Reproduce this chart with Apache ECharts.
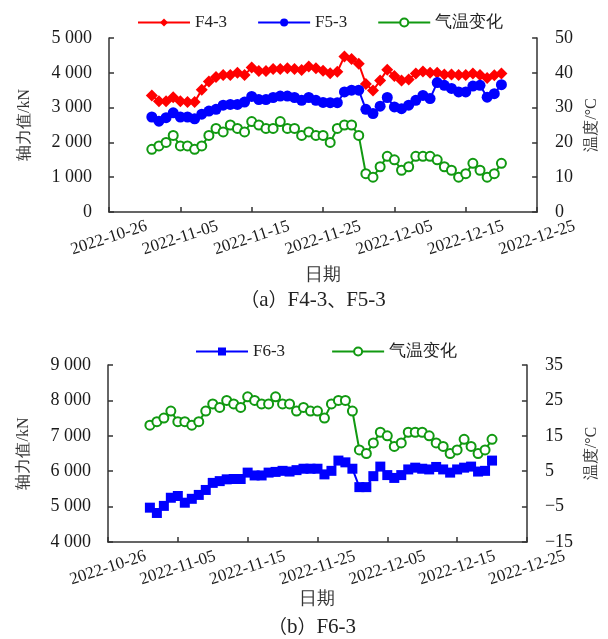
<!DOCTYPE html>
<html>
<head>
<meta charset="utf-8">
<script src="https://cdn.jsdelivr.net/npm/echarts@6/dist/echarts.min.js"></script>
<style>
  html, body { margin: 0; padding: 0; background: #fff; }
  #chart { width: 608px; height: 639px; }
</style>
</head>
<body>
<div id="chart"></div>
<script>
var startDate = "2022-10-26";
var dates = [
  "2022-11-01", "2022-11-02", "2022-11-03", "2022-11-04", "2022-11-05",
  "2022-11-06", "2022-11-07", "2022-11-08", "2022-11-09", "2022-11-10",
  "2022-11-11", "2022-11-12", "2022-11-13", "2022-11-14", "2022-11-15",
  "2022-11-16", "2022-11-17", "2022-11-18", "2022-11-19", "2022-11-20",
  "2022-11-21", "2022-11-22", "2022-11-23", "2022-11-24", "2022-11-25",
  "2022-11-26", "2022-11-27", "2022-11-28", "2022-11-29", "2022-11-30",
  "2022-12-01", "2022-12-02", "2022-12-03", "2022-12-04", "2022-12-05",
  "2022-12-06", "2022-12-07", "2022-12-08", "2022-12-09", "2022-12-10",
  "2022-12-11", "2022-12-12", "2022-12-13", "2022-12-14", "2022-12-15",
  "2022-12-16", "2022-12-17", "2022-12-18", "2022-12-19", "2022-12-20"
];
var f43 = [3350, 3180, 3180, 3300, 3180, 3160, 3160, 3510, 3750, 3880,
  3940, 3940, 4000, 3940, 4150, 4050, 4050, 4110, 4110, 4130,
  4110, 4080, 4180, 4130, 4060, 3990, 4030, 4470, 4400, 4260,
  3680, 3490, 3780, 4090, 3910, 3780, 3810, 3980, 4040, 4000,
  4000, 3950, 3950, 3940, 3940, 3980, 3940, 3850, 3930, 3980];
var f53 = [2730, 2610, 2710, 2850, 2730, 2730, 2680, 2810, 2900, 2950,
  3070, 3090, 3090, 3160, 3320, 3230, 3230, 3290, 3330, 3330,
  3290, 3210, 3290, 3210, 3150, 3140, 3140, 3450, 3500, 3500,
  2950, 2830, 3040, 3290, 3020, 2970, 3070, 3210, 3350, 3260,
  3720, 3640, 3550, 3450, 3450, 3620, 3640, 3300, 3400, 3660];
var f63 = [4970, 4820, 5020, 5250, 5300, 5110, 5220, 5330, 5470, 5670,
  5720, 5770, 5780, 5780, 5960, 5880, 5880, 5960, 5980, 6010,
  5990, 6030, 6070, 6070, 6070, 5910, 6010, 6300, 6250, 6070,
  5550, 5550, 5860, 6130, 5890, 5810, 5890, 6050, 6100, 6070,
  6050, 6120, 6050, 5960, 6050, 6100, 6130, 5990, 6010, 6300];
var temp = [18, 19, 20, 22, 19, 19, 18, 19, 22, 24,
  23, 25, 24, 23, 26, 25, 24, 24, 26, 24,
  24, 22, 23, 22, 22, 20, 24, 25, 25, 22,
  11, 10, 13, 16, 15, 12, 13, 16, 16, 16,
  15, 13, 12, 10, 11, 14, 12, 10, 11, 14];

var DAY = 86400000;
var t0 = Date.parse(startDate);
var fontFam = "Liberation Serif";
var cjkFam = "Noto Sans CJK SC";
var txtColor = "#1a1a1a";

// x 轴用距起始日的天数
function pairs(vals) {
  return vals.map(function (v, i) {
    return [(Date.parse(dates[i]) - t0) / DAY, v];
  });
}
function dateLabel(v) {
  return new Date(t0 + v * DAY).toISOString().slice(0, 10);
}
function kN(v) {
  return v >= 1000 ? Math.floor(v / 1000) + " " + String(v % 1000).padStart(3, "0") : String(v);
}
function minus(v) {
  return String(v).replace("-", "\u2212");
}

var axisLine = { show: true, onZero: false, lineStyle: { color: "#333", width: 1.5 } };
var axisTick = { show: true, inside: true, length: 5, lineStyle: { color: "#333", width: 1.5 } };
var labelStyle = { color: txtColor, fontSize: 18, fontFamily: fontFam };
var nameStyle = { color: "#333", fontSize: 16, fontFamily: fontFam };

function xAxisCfg(gridIndex, gap) {
  return {
    type: "value", gridIndex: gridIndex,
    min: 0, max: 60, interval: 10,
    name: "日期", nameLocation: "middle", nameGap: gap,
    nameTextStyle: { color: "#333", fontSize: 18, fontFamily: fontFam },
    axisLine: axisLine, axisTick: axisTick, splitLine: { show: false },
    axisLabel: {
      rotate: 18, align: "center", verticalAlign: "middle", margin: 26,
      formatter: dateLabel, showMaxLabel: true, showMinLabel: true,
      color: txtColor, fontSize: 17, fontFamily: fontFam
    }
  };
}

// 图注：全角括号用中文字体
function caption(x, y, tag, body) {
  return {
    type: "text", x: x, y: y,
    style: {
      text: "{c|（}" + tag + "{c|）}" + body,
      fill: "#222", fontSize: 21, fontFamily: fontFam,
      align: "center", verticalAlign: "middle",
      rich: { c: { fontFamily: cjkFam, fontSize: 19, fill: "#222" } }
    }
  };
}

var chart = echarts.init(document.getElementById("chart"));
chart.setOption({
  animation: false,
  backgroundColor: "#fff",
  legend: [
    {
      left: 132, top: 9, itemWidth: 52, itemHeight: 10, itemGap: 30,
      data: ["F4-3", "F5-3", "气温变化"],
      textStyle: { color: "#222", fontSize: 17, fontFamily: fontFam }
    },
    {
      left: 190, top: 338, itemWidth: 52, itemHeight: 10, itemGap: 46,
      data: ["F6-3", "气温变化"],
      textStyle: { color: "#222", fontSize: 17, fontFamily: fontFam }
    }
  ],
  graphic: [
    caption(313, 300, "a", "F4-3{c|、}F5-3"),
    caption(312, 627, "b", "F6-3")
  ],
  grid: [
    { left: 109, top: 38, width: 431, height: 174 },
    { left: 108, top: 365, width: 432, height: 177 }
  ],
  xAxis: [xAxisCfg(0, 54), xAxisCfg(1, 42)],
  yAxis: [
    {
      type: "value", gridIndex: 0, min: 0, max: 5000, interval: 1000,
      name: "轴力值/kN", nameLocation: "middle", nameGap: 76, nameRotate: 90,
      nameTextStyle: nameStyle,
      axisLine: axisLine, axisTick: axisTick, splitLine: { show: false },
      axisLabel: Object.assign({ formatter: kN, margin: 17 }, labelStyle)
    },
    {
      type: "value", gridIndex: 0, position: "right", min: 0, max: 50, interval: 10,
      name: "温度/°C", nameLocation: "middle", nameGap: 43, nameRotate: 90,
      nameTextStyle: nameStyle,
      axisLine: axisLine, axisTick: axisTick, splitLine: { show: false },
      axisLabel: Object.assign({ margin: 18 }, labelStyle)
    },
    {
      type: "value", gridIndex: 1, min: 4000, max: 9000, interval: 1000,
      name: "轴力值/kN", nameLocation: "middle", nameGap: 76, nameRotate: 90,
      nameTextStyle: nameStyle,
      axisLine: axisLine, axisTick: axisTick, splitLine: { show: false },
      axisLabel: Object.assign({ formatter: kN, margin: 17 }, labelStyle)
    },
    {
      type: "value", gridIndex: 1, position: "right", min: -15, max: 35, alignTicks: true,
      name: "温度/°C", nameLocation: "middle", nameGap: 43, nameRotate: 90,
      nameTextStyle: nameStyle,
      axisLine: axisLine, axisTick: axisTick, splitLine: { show: false },
      axisLabel: Object.assign({ margin: 18, formatter: minus }, labelStyle)
    }
  ],
  series: [
    {
      name: "F4-3", type: "line", xAxisIndex: 0, yAxisIndex: 0, data: pairs(f43),
      symbol: "diamond", symbolSize: 12, color: "#ff0000", lineStyle: { width: 2 }
    },
    {
      name: "F5-3", type: "line", xAxisIndex: 0, yAxisIndex: 0, data: pairs(f53),
      symbol: "circle", symbolSize: 11, color: "#0000ff", lineStyle: { width: 2 }
    },
    {
      name: "气温变化", type: "line", xAxisIndex: 0, yAxisIndex: 1, data: pairs(temp),
      symbol: "emptyCircle", symbolSize: 9, color: "#119911",
      lineStyle: { width: 2 }, itemStyle: { borderWidth: 2 }
    },
    {
      name: "F6-3", type: "line", xAxisIndex: 1, yAxisIndex: 2, data: pairs(f63),
      symbol: "rect", symbolSize: 10, color: "#0000ff", lineStyle: { width: 2 }
    },
    {
      name: "气温变化", type: "line", xAxisIndex: 1, yAxisIndex: 3, data: pairs(temp),
      symbol: "emptyCircle", symbolSize: 9, color: "#119911",
      lineStyle: { width: 2 }, itemStyle: { borderWidth: 2 }
    }
  ]
});
</script>
</body>
</html>
